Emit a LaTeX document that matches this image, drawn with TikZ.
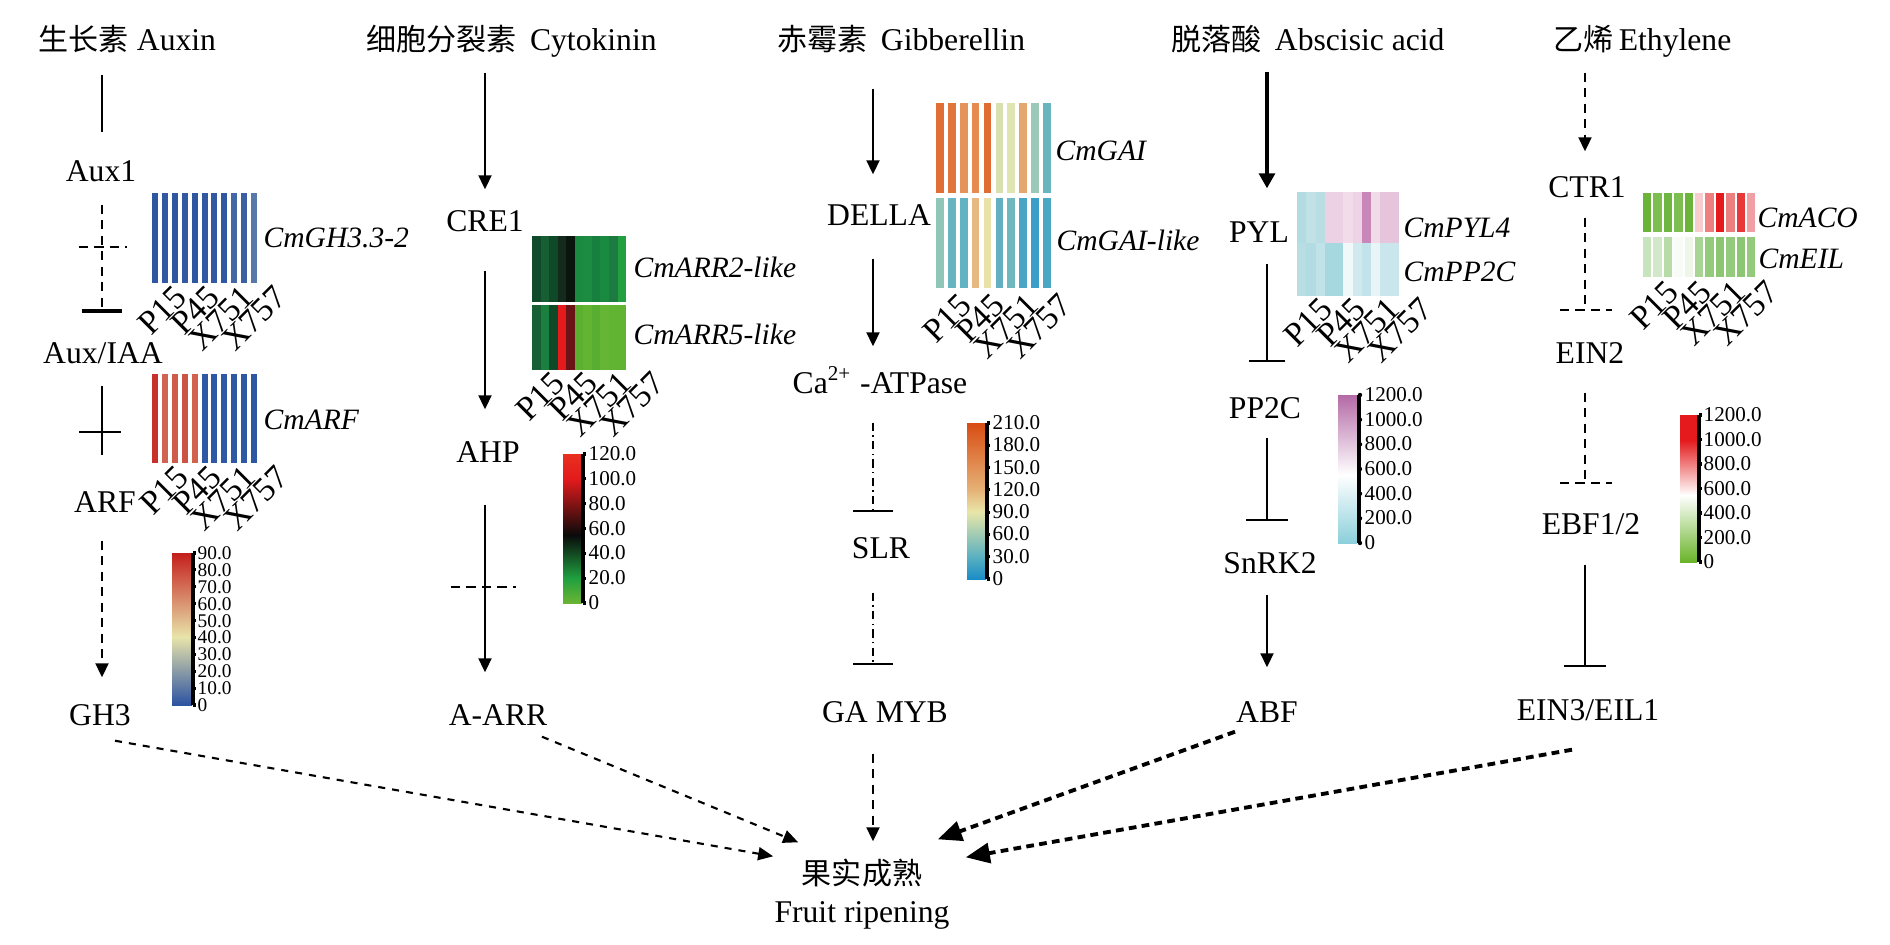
\documentclass[tikz,border=0pt]{standalone}
\usepackage{fontspec}
\setmainfont{Liberation Serif}
\newfontfamily\cjk[Scale=0.95]{Noto Sans CJK SC}
\usetikzlibrary{arrows.meta, calc, positioning}

\tikzstyle{hormone}=[inner sep=0pt, anchor=west, text height=0.21cm, text depth=0pt, font=\fontsize{9}{11}\selectfont]
\tikzstyle{gene}=[inner sep=0pt, text height=0.21cm, text depth=0pt, font=\fontsize{9}{11}\selectfont]
\tikzstyle{heatLabel}=[inner sep=0pt, anchor=west, text height=0.2cm, text depth=0pt, font=\fontsize{8.4}{10}\selectfont\itshape]
\tikzstyle{sample}=[inner sep=0pt, rotate=45, anchor=north east, text height=0.23cm, text depth=0pt, font=\fontsize{9.6}{12}\selectfont]
\tikzstyle{tickLabel}=[inner sep=0pt, anchor=west, text height=0.13cm, text depth=0pt, font=\fontsize{6}{7}\selectfont]
\tikzstyle{plainLine}=[line width=0.6pt]
\tikzstyle{activate}=[line width=0.6pt, -{Triangle[width=0.13cm, length=0.14cm]}]
\tikzstyle{inhibit}=[line width=0.6pt, -{Bar[width=0.4cm]}]
\tikzstyle{dashLine}=[dash pattern=on 2.6pt off 1.8pt]
\tikzstyle{dashDot}=[dash pattern=on 2.4pt off 1.2pt on 0.4pt off 1.2pt]
\tikzstyle{ripen}=[line width=0.6pt, dash pattern=on 2pt off 2pt, -{Triangle[width=0.13cm, length=0.15cm]}]
\tikzstyle{ripenBold}=[line width=1.1pt, dash pattern=on 2.2pt off 1.5pt, -{Triangle[width=0.2cm, length=0.24cm]}]
\tikzstyle{scaleAxis}=[line width=0.9pt]

\definecolor{auxHigh}{HTML}{C41E1C}
\definecolor{auxMid}{HTML}{E8E4AA}
\definecolor{auxLow}{HTML}{2C52A2}
\definecolor{ckTop}{HTML}{E8301E}
\definecolor{ckHigh}{HTML}{E31A1C}
\definecolor{ckMid}{HTML}{0A0A0A}
\definecolor{ckGreen}{HTML}{1FA040}
\definecolor{ckLow}{HTML}{6AB432}
\definecolor{gaHigh}{HTML}{D84C12}
\definecolor{gaOrange}{HTML}{E6B277}
\definecolor{gaMid}{HTML}{E8E6A8}
\definecolor{gaTeal}{HTML}{5AB0C0}
\definecolor{gaLow}{HTML}{1A8CC8}
\definecolor{abaHigh}{HTML}{B46AA6}
\definecolor{abaLow}{HTML}{8CCFDB}
\definecolor{ethHigh}{HTML}{E41A1C}
\definecolor{ethLow}{HTML}{6AB42A}

\begin{document}
\begin{tikzpicture}[x=0.01cm, y=-0.01cm]
    \useasboundingbox (0,0) rectangle (1890,945);

    % column axes
    \coordinate (ax1) at (102,0);
    \coordinate (ax2) at (485,0);
    \coordinate (ax3) at (873,0);
    \coordinate (ax4) at (1267,0);
    \coordinate (ax5) at (1585,0);

    % auxin
    \node[hormone] (auxin) at (38,40) {{\cjk 生长素}\hspace{0.08cm}Auxin};
    \node[gene] (aux1) at (101,171) {Aux1};
    \node[gene] (auxIAA) at (103,353) {Aux/IAA};
    \node[gene] (arf) at (105,502) {ARF};
    \node[gene] (gh3) at (100,715) {GH3};
    \coordinate (auxCross) at (102,247);
    \coordinate (arfCross) at (102,432);

    \draw[plainLine, shorten <=0.235cm, shorten >=0.275cm] (auxin.south -| ax1) -- (aux1.north -| ax1);
    \draw[inhibit, dashLine, -{Bar[width=0.4cm, line width=1.3pt]}, shorten <=0.225cm, shorten >=0.285cm] (aux1.south -| ax1) -- (auxIAA.north -| ax1);
    \draw[plainLine, dashLine] ([xshift=-0.23cm]auxCross) -- ([xshift=0.25cm]auxCross);
    \draw[plainLine, shorten <=0.215cm, shorten >=0.355cm] (auxIAA.south -| ax1) -- (arf.north -| ax1);
    \draw[plainLine] ([xshift=-0.23cm]arfCross) -- ([xshift=0.19cm]arfCross);
    \draw[activate, dashLine, shorten <=0.275cm, shorten >=0.265cm] (arf.south -| ax1) -- (gh3.north -| ax1);

    % cytokinin
    \node[hormone] (cyto) at (366,40) {{\cjk 细胞分裂素}\hspace{0.13cm}Cytokinin};
    \node[gene] (cre1) at (485,221) {CRE1};
    \node[gene] (ahp) at (488,452) {AHP};
    \node[gene] (aArr) at (498,715) {A-ARR};
    \coordinate (ahpCross) at (485,587);

    \draw[activate, shorten <=0.215cm, shorten >=0.205cm] (cyto.south -| ax2) -- (cre1.north -| ax2);
    \draw[activate, shorten <=0.385cm, shorten >=0.315cm] (cre1.south -| ax2) -- (ahp.north -| ax2);
    \draw[activate, shorten <=0.415cm, shorten >=0.315cm] (ahp.south -| ax2) -- (aArr.north -| ax2);
    \draw[plainLine, dashLine] ([xshift=-0.34cm]ahpCross) -- ([xshift=0.31cm]ahpCross);

    % gibberellin
    \node[hormone] (ga) at (777,40) {{\cjk 赤霉素}\hspace{0.13cm}Gibberellin};
    \node[gene] (della) at (879,215) {DELLA};
    \node[gene] (ca) at (880,383) {Ca\textsuperscript{2+} -ATPase};
    \node[gene] (slr) at (881,548) {SLR};
    \node[gene] (gaMyb) at (885,712) {GA MYB};

    \draw[activate, shorten <=0.375cm, shorten >=0.295cm] (ga.south -| ax3) -- (della.north -| ax3);
    \draw[activate, shorten <=0.325cm, shorten >=0.255cm] (della.south -| ax3) -- (ca.north -| ax3);
    \draw[inhibit, dashDot, shorten <=0.285cm, shorten >=0.245cm] (ca.south -| ax3) -- (slr.north -| ax3);
    \draw[inhibit, dashDot, shorten <=0.335cm, shorten >=0.355cm] (slr.south -| ax3) -- (gaMyb.north -| ax3);

    % abscisic acid
    \node[hormone] (aba) at (1171,40) {{\cjk 脱落酸}\hspace{0.13cm}Abscisic acid};
    \node[gene] (pyl) at (1259,232) {PYL};
    \node[gene] (pp2c) at (1265,408) {PP2C};
    \node[gene] (snrk2) at (1270,563) {SnRK2};
    \node[gene] (abf) at (1267,712) {ABF};

    \draw[activate, line width=0.9pt, -{Triangle[width=0.16cm, length=0.15cm]}, shorten <=0.205cm, shorten >=0.325cm] (aba.south -| ax4) -- (pyl.north -| ax4);
    \draw[inhibit, -{Bar[width=0.36cm]}, shorten <=0.205cm, shorten >=0.345cm] (pyl.south -| ax4) -- (pp2c.north -| ax4);
    \draw[inhibit, -{Bar[width=0.42cm]}, shorten <=0.185cm, shorten >=0.305cm] (pp2c.south -| ax4) -- (snrk2.north -| ax4);
    \draw[activate, shorten <=0.205cm, shorten >=0.335cm] (snrk2.south -| ax4) -- (abf.north -| ax4);

    % ethylene
    \node[hormone] (eth) at (1553,40) {{\cjk 乙烯}\hspace{0.05cm}Ethylene};
    \node[gene] (ctr1) at (1587,187) {CTR1};
    \node[gene] (ein2) at (1590,353) {EIN2};
    \node[gene] (ebf) at (1591,524) {EBF1/2};
    \node[gene] (ein3) at (1588,710) {EIN3/EIL1};
    \coordinate (ein2Bar) at (1585,310);
    \coordinate (ebfBar) at (1585,483);

    \draw[activate, dashLine, shorten <=0.215cm, shorten >=0.245cm] (eth.south -| ax5) -- (ctr1.north -| ax5);
    \draw[plainLine, dashLine, shorten <=0.195cm] (ctr1.south -| ax5) -- (ein2Bar);
    \draw[plainLine, dashLine] ([xshift=-0.25cm]ein2Bar) -- ([xshift=0.27cm]ein2Bar);
    \draw[plainLine, dashLine, shorten <=0.285cm] (ein2.south -| ax5) -- (ebfBar);
    \draw[plainLine, dashLine] ([xshift=-0.25cm]ebfBar) -- ([xshift=0.27cm]ebfBar);
    \draw[inhibit, -{Bar[width=0.42cm]}, shorten <=0.295cm, shorten >=0.315cm] (ebf.south -| ax5) -- (ein3.north -| ax5);

    % fruit ripening
    \node[gene] (fruit) at (862,874) {\cjk 果实成熟};
    \node[gene] (fruitEn) at (862,912) {Fruit ripening};

    \draw[activate, dashLine, shorten <=0.305cm, shorten >=0.215cm] (gaMyb.south -| ax3) -- (fruit.north -| ax3);
    \draw[ripen] ($(gh3.south)+(15,14.5)$) -- ($(fruit.north west)+(-28,-6.5)$);
    \draw[ripen] ($(aArr.south)+(44,10.5)$) -- ($(fruit.north west)+(-3,-20.5)$);
    \draw[ripenBold] ($(abf.south)+(-32,8.5)$) -- ($(fruit.north east)+(15,-23.5)$);
    \draw[ripenBold] ($(ein3.south)+(-16,28.5)$) -- ($(fruit.north east)+(43,-5.5)$);

    % heatmaps
    \foreach \col [count=\n from 0] in {2F57A0,3158A0,2F57A0,3259A1,2F57A0,3158A0,3259A1,3058A0,4468A6,3A5FA3,5878AA}
        {\definecolor{cell}{HTML}{\col}\fill[cell] (152+9.9*\n,193) rectangle ++(6,90);}
    \foreach \col [count=\n from 0] in {C8302C,D06452,CF5B4B,CC5444,D0624F,2F58A4,2F58A4,3059A4,3059A4,2F58A4,2E57A3}
        {\definecolor{cell}{HTML}{\col}\fill[cell] (152+9.9*\n,374) rectangle ++(6,89);}
    \foreach \col [count=\n from 0] in {0F4A2A,175E35,0E4A28,142A1C,0A150E,1A8A40,1C8C42,17803E,1A8A40,1D7A40,22A040}
        {\definecolor{cell}{HTML}{\col}\fill[cell] (532+8.55*\n,236) rectangle ++(8.9,66);}
    \foreach \col [count=\n from 0] in {176035,1A8040,0E4A28,E41A1C,6A1418,5CB030,62B432,58AE30,64B634,60B432,60B432}
        {\definecolor{cell}{HTML}{\col}\fill[cell] (532+8.55*\n,305) rectangle ++(8.9,65);}
    \foreach \col [count=\n from 0] in {E06E35,E0763A,E5935A,E58B50,E06C32,D8E0B0,DFE4B3,E4A86E,9CC8B8,6AB4C0}
        {\definecolor{cell}{HTML}{\col}\fill[cell] (936+11.9*\n,103) rectangle ++(7.7,90);}
    \foreach \col [count=\n from 0] in {90C6B8,68B4C0,62B2C2,E8B882,E9E2A8,62B0C2,70B8C0,4AA6C4,3A9EC8,4AA8C4}
        {\definecolor{cell}{HTML}{\col}\fill[cell] (936+11.9*\n,198) rectangle ++(7.7,90);}
    \foreach \col [count=\n from 0] in {B2DCE2,C0E2E7,B8DEE4,ECD0E3,ECD0E3,F2DCEA,EDD3E5,C986B9,F0DCE8,E6C4DC,E6C4DC}
        {\definecolor{cell}{HTML}{\col}\fill[cell] (1297+9.27*\n,192) rectangle ++(9.6,51);}
    \foreach \col [count=\n from 0] in {B8DEE4,B2DCE2,C0E2E8,A6D8E0,A6D8E0,F0F8FA,D0E9EE,C2E3E9,E8F4F6,C8E6EC,C8E6EC}
        {\definecolor{cell}{HTML}{\col}\fill[cell] (1297+9.27*\n,243) rectangle ++(9.6,53);}
    \foreach \col [count=\n from 0] in {6AB43A,7CBE50,6FB640,7CBE50,6AB43A,F8CDD0,EE7F80,E41A1C,EC8080,E8383A,F0A0A4}
        {\definecolor{cell}{HTML}{\col}\fill[cell] (1643+10.4*\n,193) rectangle ++(8.3,39);}
    \foreach \col [count=\n from 0] in {C8E4BC,D2E8C8,B8DCA8,F8FCF6,EEF6EA,A8D494,94CA7C,8CC672,94CA7C,8CC672,94CA7C}
        {\definecolor{cell}{HTML}{\col}\fill[cell] (1643+10.4*\n,237) rectangle ++(8.3,40);}

    \node[heatLabel] (gh3Gene) at (263,237) {CmGH3.3-2};
    \node[heatLabel] (arfGene) at (263,419) {CmARF};
    \node[heatLabel] (arr2Gene) at (633,267) {CmARR2-like};
    \node[heatLabel] (arr5Gene) at (633,334) {CmARR5-like};
    \node[heatLabel] (gaiGene) at (1055,150) {CmGAI};
    \node[heatLabel] (gaiLikeGene) at (1056,240) {CmGAI-like};
    \node[heatLabel] (pyl4Gene) at (1403,227) {CmPYL4};
    \node[heatLabel] (pp2cGene) at (1403,271) {CmPP2C};
    \node[heatLabel] (acoGene) at (1757,217) {CmACO};
    \node[heatLabel] (eilGene) at (1758,258) {CmEIL};

    % sample names
    \foreach \s [count=\n from 0] in {P15,P45,X751,X757}
    {
        \node[sample] (gh3S\n) at (172+33.5*\n,282) {\s};
        \node[sample] (arfS\n) at (174+33.5*\n,462) {\s};
        \node[sample] (arrS\n) at (550+33.5*\n,368) {\s};
        \node[sample] (gaiS\n) at (957+33.5*\n,290) {\s};
        \node[sample] (pylS\n) at (1318+33.5*\n,294) {\s};
        \node[sample] (acoS\n) at (1664+33.5*\n,277) {\s};
    }

    % colour scales
    \shade[top color=auxHigh, bottom color=auxMid] (172,553) rectangle (192,637);
    \shade[top color=auxMid, bottom color=auxLow] (172,637) rectangle (192,705);
    \draw[scaleAxis] (193,553) -- (193,705);
    \foreach \v [count=\n from 0] in {90.0,80.0,70.0,60.0,50.0,40.0,30.0,20.0,10.0,0}
    {
        \draw[scaleAxis] (193,553+16.89*\n) -- ++(3,0);
        \node[tickLabel, font=\fontsize{5.5}{6}\selectfont] (auxT\n) at (197,553+16.89*\n) {\v};
    }

    \shade[top color=ckTop, bottom color=ckHigh] (563,454) rectangle (582,479);
    \shade[top color=ckHigh, bottom color=ckMid] (563,479) rectangle (582,535);
    \shade[top color=ckMid, bottom color=ckGreen] (563,535) rectangle (582,578);
    \shade[top color=ckGreen, bottom color=ckLow] (563,578) rectangle (582,603);
    \draw[scaleAxis] (583,454) -- (583,603);
    \foreach \v [count=\n from 0] in {120.0,100.0,80.0,60.0,40.0,20.0,0}
    {
        \draw[scaleAxis] (583,454+24.83*\n) -- ++(3,0);
        \node[tickLabel] (ckT\n) at (588,454+24.83*\n) {\v};
    }

    \shade[top color=gaHigh, bottom color=gaOrange] (967,423) rectangle (986,490);
    \shade[top color=gaOrange, bottom color=gaMid] (967,490) rectangle (986,512);
    \shade[top color=gaMid, bottom color=gaTeal] (967,512) rectangle (986,557);
    \shade[top color=gaTeal, bottom color=gaLow] (967,557) rectangle (986,579);
    \draw[scaleAxis] (987,423) -- (987,579);
    \foreach \v [count=\n from 0] in {210.0,180.0,150.0,120.0,90.0,60.0,30.0,0}
    {
        \draw[scaleAxis] (987,423+22.29*\n) -- ++(3,0);
        \node[tickLabel] (gaT\n) at (992,423+22.29*\n) {\v};
    }

    \shade[top color=abaHigh, bottom color=white] (1338,395) rectangle (1357,475);
    \shade[top color=white, bottom color=abaLow] (1338,475) rectangle (1357,543);
    \draw[scaleAxis] (1359,395) -- (1359,543);
    \foreach \v [count=\n from 0] in {1200.0,1000.0,800.0,600.0,400.0,200.0,0}
    {
        \fill (1360,395+24.67*\n) circle (2.2);
        \node[tickLabel] (abaT\n) at (1364,395+24.67*\n) {\v};
    }

    \fill[ethHigh] (1680,415) rectangle (1697,440);
    \shade[top color=ethHigh, bottom color=white] (1680,440) rectangle (1697,495);
    \shade[top color=white, bottom color=ethLow] (1680,495) rectangle (1697,562);
    \draw[scaleAxis] (1699,415) -- (1699,562);
    \foreach \v [count=\n from 0] in {1200.0,1000.0,800.0,600.0,400.0,200.0,0}
    {
        \draw[scaleAxis] (1699,415+24.5*\n) -- ++(3,0);
        \node[tickLabel] (ethT\n) at (1703,415+24.5*\n) {\v};
    }

\end{tikzpicture}
\end{document}
